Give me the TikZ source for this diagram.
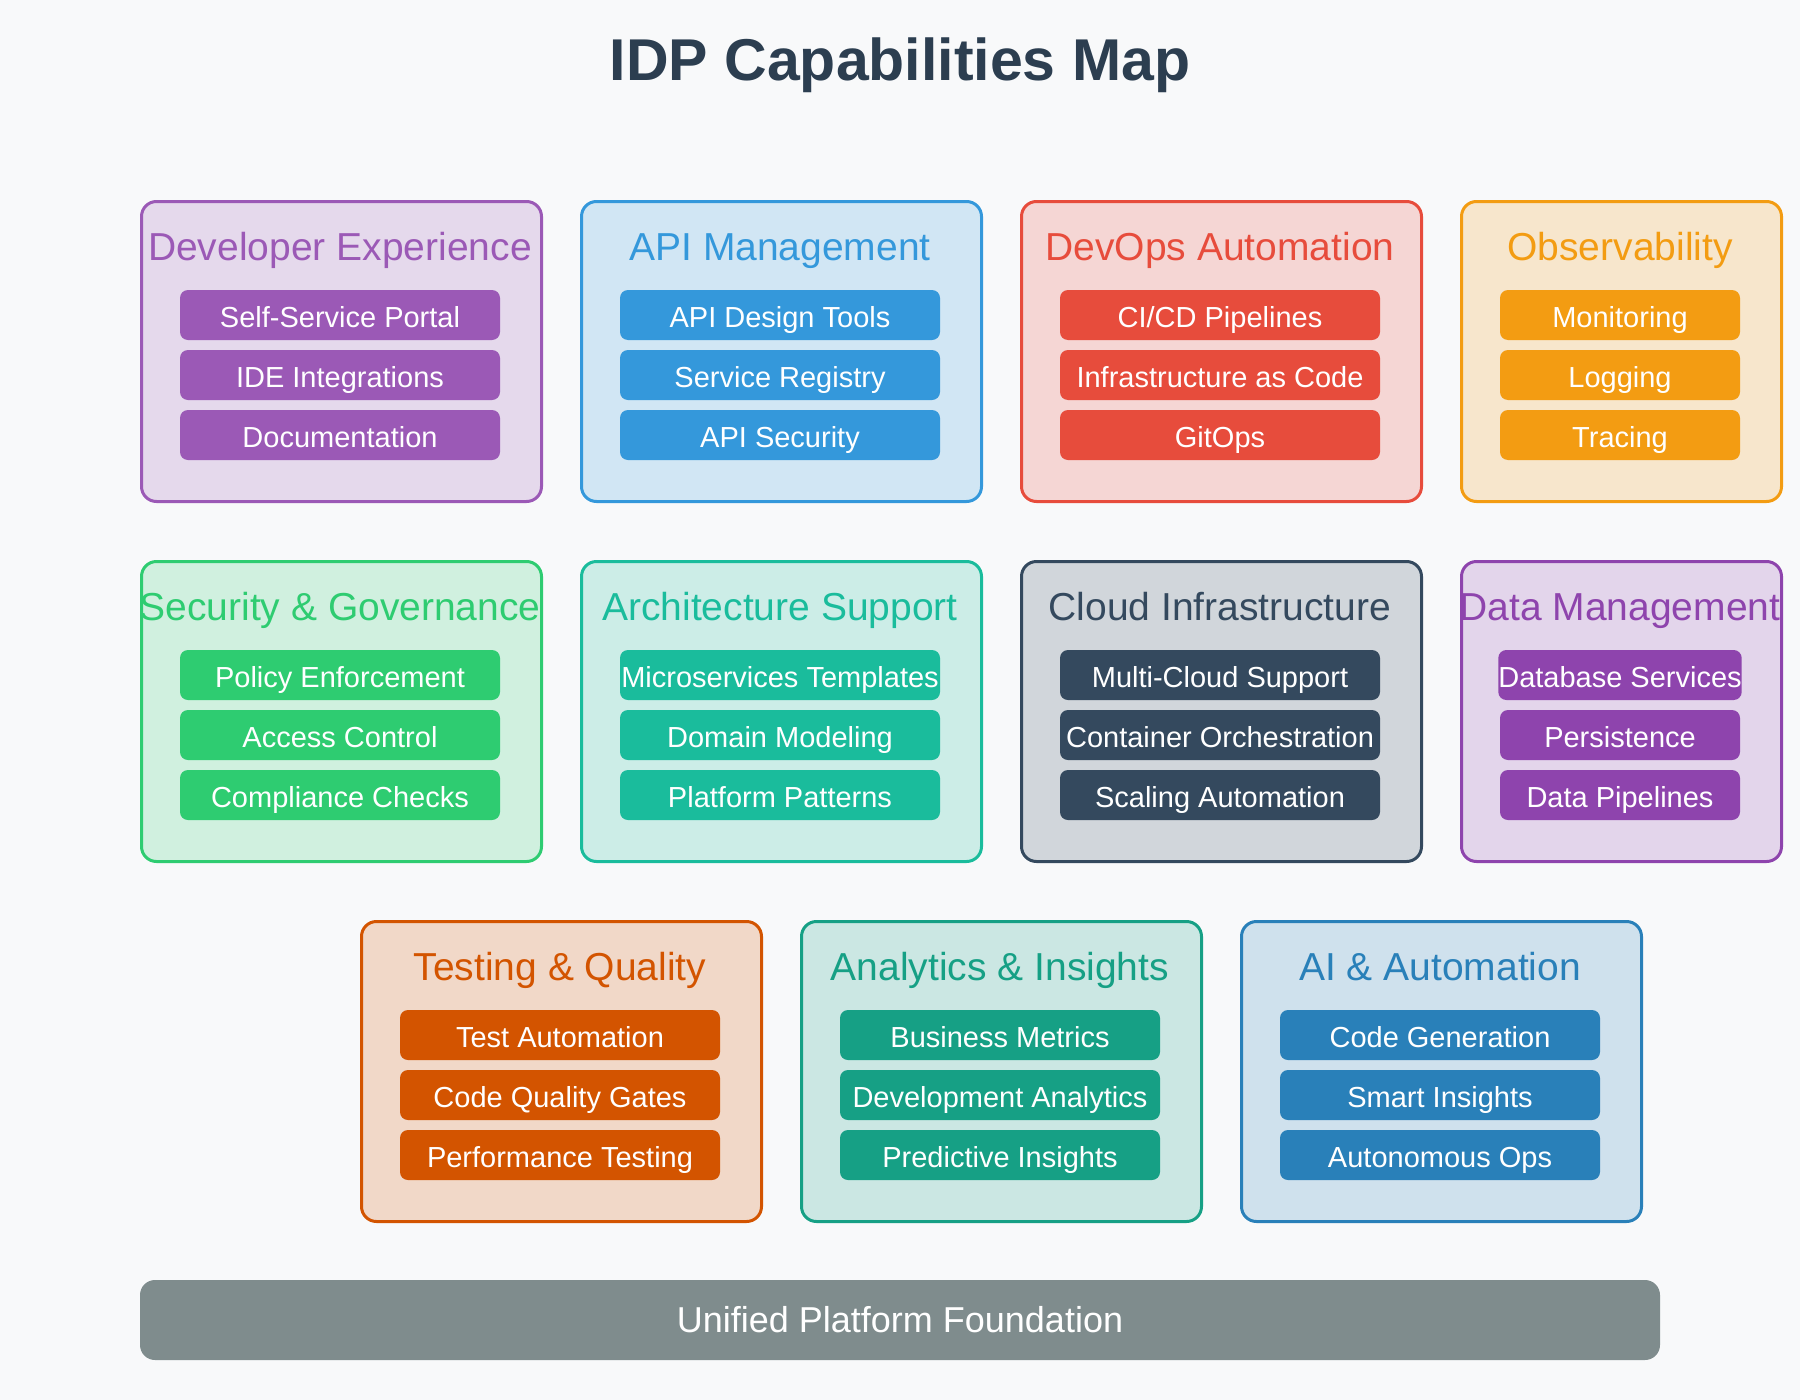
\documentclass[tikz,border=0pt]{standalone}
\usepackage{fontspec}
\setmainfont{Liberation Sans}
\begin{document}
\definecolor{bgc}{HTML}{F8F9FA}
\definecolor{titlec}{HTML}{2C3E50}
\definecolor{cdev}{HTML}{9B59B6}
\definecolor{capi}{HTML}{3498DB}
\definecolor{cops}{HTML}{E74C3C}
\definecolor{cobs}{HTML}{F39C12}
\definecolor{csec}{HTML}{2ECC71}
\definecolor{carch}{HTML}{1ABC9C}
\definecolor{ccloud}{HTML}{34495E}
\definecolor{cdata}{HTML}{8E44AD}
\definecolor{ctest}{HTML}{D35400}
\definecolor{cana}{HTML}{16A085}
\definecolor{cai}{HTML}{2980B9}
\definecolor{cfound}{HTML}{7F8C8D}
% one capability card: name, left x, top y, width, colour, heading, three entries
\newcommand\capcard[9]{%
  \node[card, draw=#5, fill=#5!20!bgc, minimum width=#4pt, anchor=north west] (#1) at (#2,#3) {};
  \node[cardtitle, text=#5] (#1-t) at ({#2+#4/2},{#3+60}) {#6};
  \node[entry, fill=#5, minimum width={(#4-80)*1pt}] (#1-a) at ({#2+#4/2},{#3+115}) {#7};
  \node[entry, fill=#5, minimum width={(#4-80)*1pt}] (#1-b) at ({#2+#4/2},{#3+175}) {#8};
  \node[entry, fill=#5, minimum width={(#4-80)*1pt}] (#1-c) at ({#2+#4/2},{#3+235}) {#9};
}
\begin{tikzpicture}[x=1pt,y=-1pt,
  card/.style={rounded corners=15pt, line width=3pt, minimum height=300pt, inner sep=0pt},
  cardtitle/.style={anchor=base, inner sep=0pt, font=\fontsize{39}{41}\selectfont},
  entry/.style={rounded corners=8pt, minimum height=50pt, inner sep=0pt, text=white,
    text height=24pt, text depth=0pt, font=\fontsize{29}{31}\selectfont},
  pagetitle/.style={anchor=base, inner sep=0pt, text=titlec, font=\fontsize{59}{62}\selectfont\bfseries},
  basebar/.style={rounded corners=15pt, fill=cfound, minimum width=1520pt, minimum height=80pt,
    inner sep=0pt, text=white, text height=25.8pt, text depth=0pt, font=\fontsize{36}{38}\selectfont}]
\fill[bgc] (0,0) rectangle (1800,1400);
\useasboundingbox (0,0) rectangle (1800,1400);

\node[pagetitle] (title) at (900,80) {IDP Capabilities Map};

\capcard{dev}{140}{200}{400}{cdev}{Developer Experience}{Self-Service Portal}{IDE Integrations}{Documentation}
\capcard{api}{580}{200}{400}{capi}{API Management}{API Design Tools}{Service Registry}{API Security}
\capcard{ops}{1020}{200}{400}{cops}{DevOps Automation}{CI/CD Pipelines}{Infrastructure as Code}{GitOps}
\capcard{obs}{1460}{200}{320}{cobs}{Observability}{Monitoring}{Logging}{Tracing}

\capcard{sec}{140}{560}{400}{csec}{Security \& Governance}{Policy Enforcement}{Access Control}{Compliance Checks}
\capcard{arch}{580}{560}{400}{carch}{Architecture Support}{Microservices Templates}{Domain Modeling}{Platform Patterns}
\capcard{cloud}{1020}{560}{400}{ccloud}{Cloud Infrastructure}{Multi-Cloud Support}{Container Orchestration}{Scaling Automation}
\capcard{data}{1460}{560}{320}{cdata}{Data Management}{Database Services}{Persistence}{Data Pipelines}

\capcard{test}{360}{920}{400}{ctest}{Testing \& Quality}{Test Automation}{Code Quality Gates}{Performance Testing}
\capcard{ana}{800}{920}{400}{cana}{Analytics \& Insights}{Business Metrics}{Development Analytics}{Predictive Insights}
\capcard{ai}{1240}{920}{400}{cai}{AI \& Automation}{Code Generation}{Smart Insights}{Autonomous Ops}

\node[basebar] (base) at (900,1320) {Unified Platform Foundation};
\end{tikzpicture}
\end{document}
